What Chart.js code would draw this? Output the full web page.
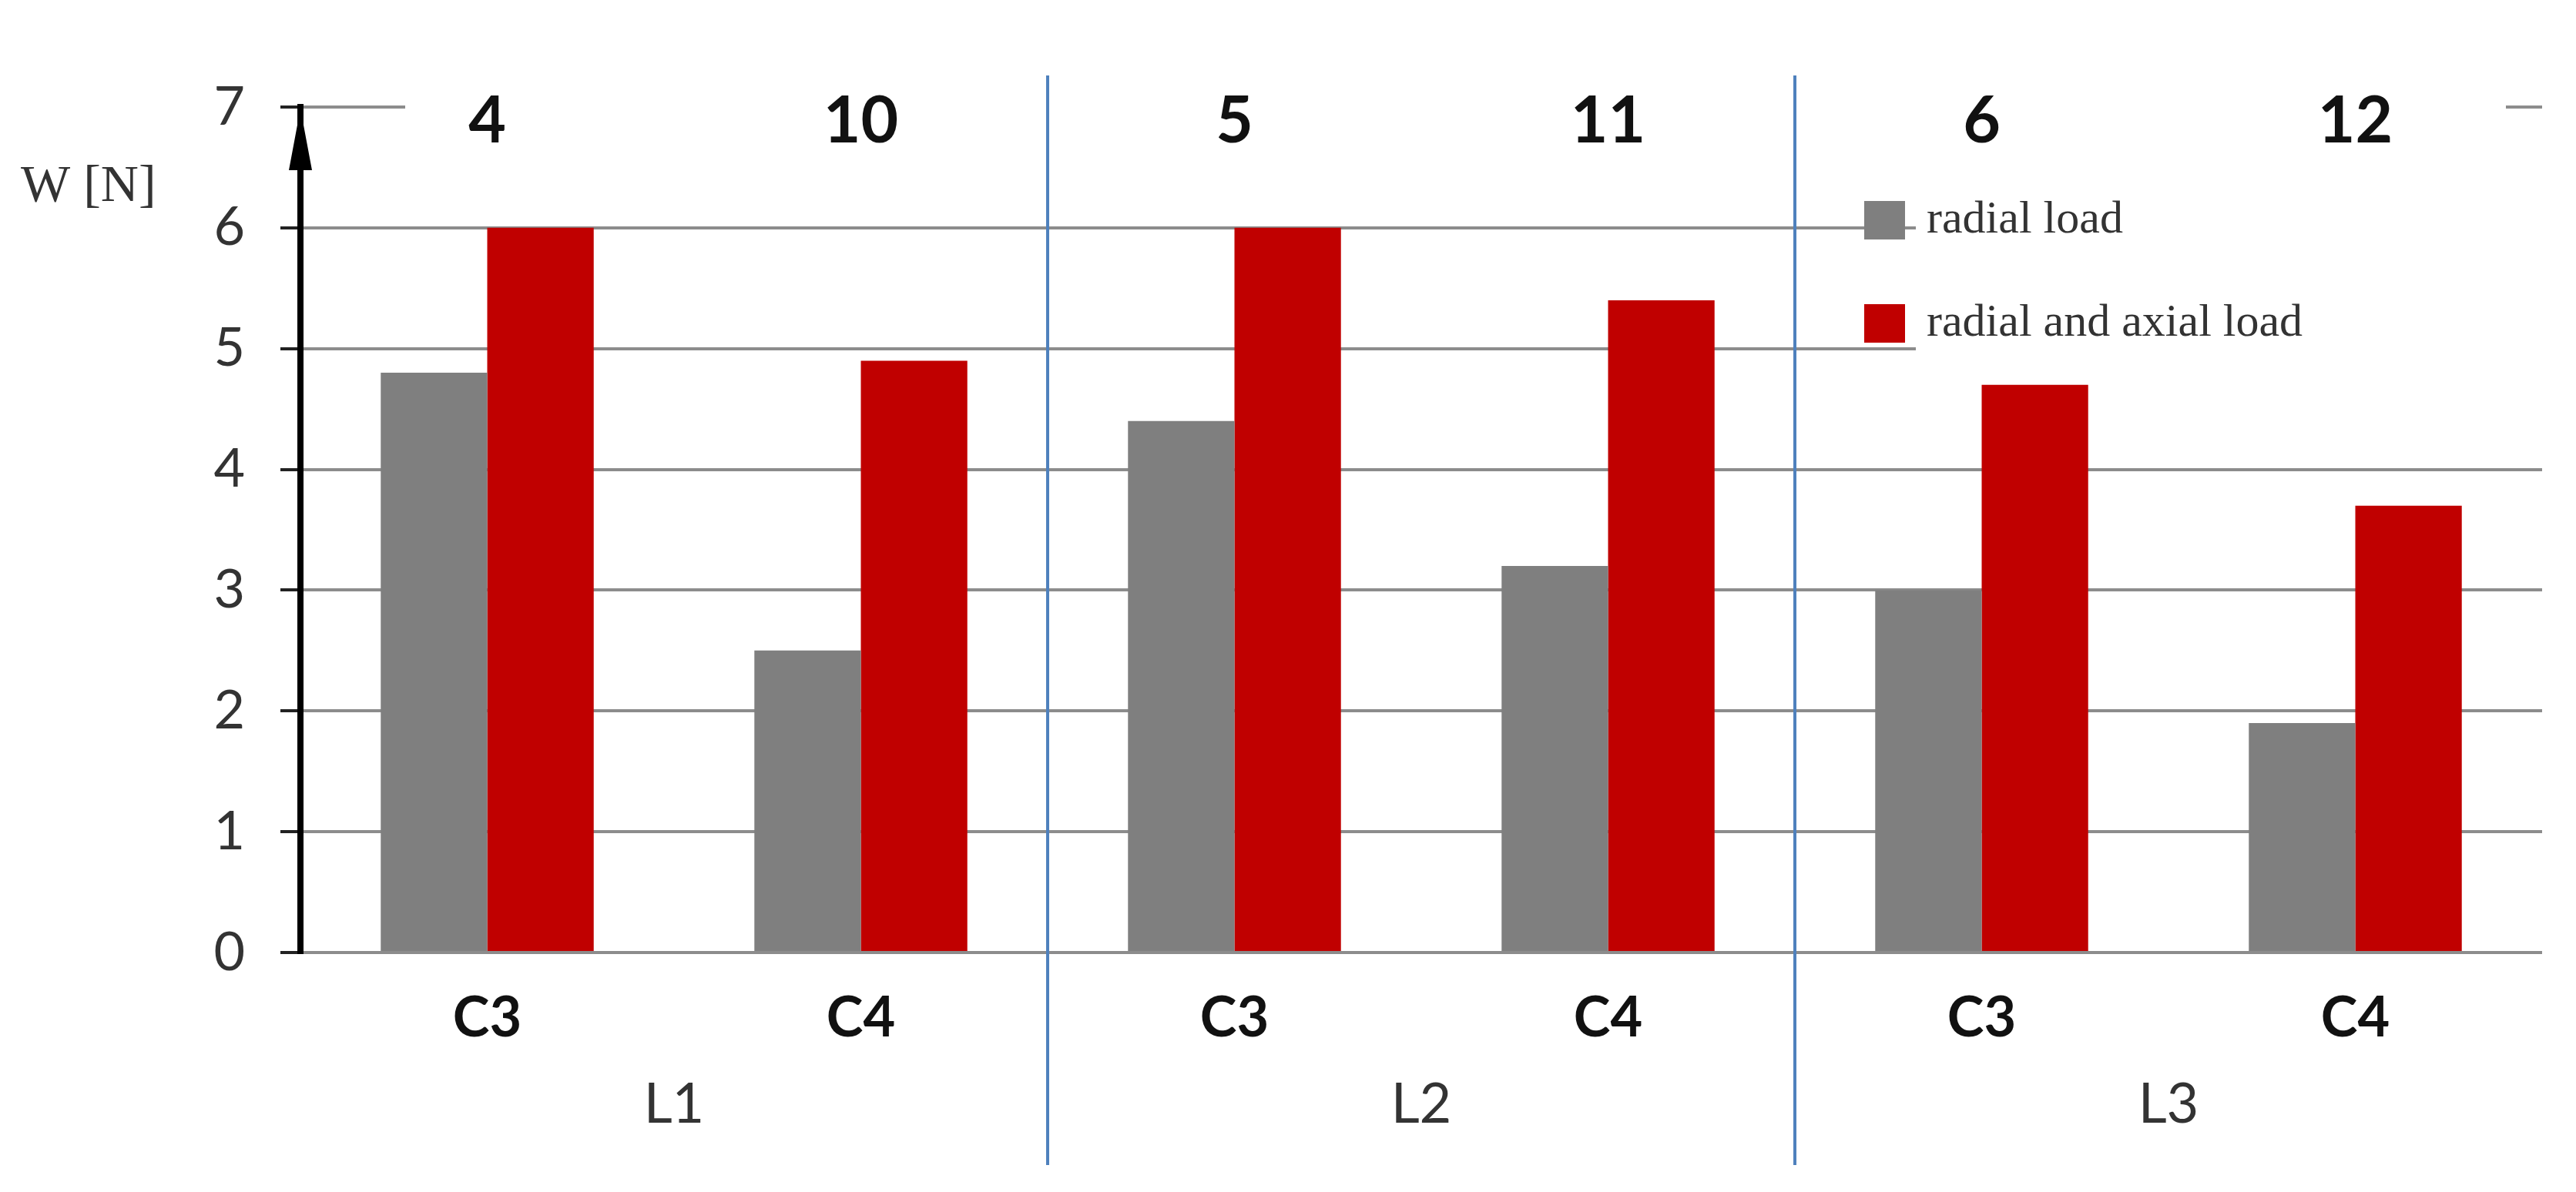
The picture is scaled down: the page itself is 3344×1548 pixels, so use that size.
<!DOCTYPE html>
<html>
<head>
<meta charset="utf-8">
<script src="https://cdn.jsdelivr.net/npm/chart.js@4/dist/chart.umd.min.js"></script>
<style>
  html, body { margin: 0; padding: 0; background: #fff; }
  #wrap { width: 3344px; height: 1548px; }
</style>
</head>
<body>
<div id="wrap"><canvas id="chart"></canvas></div>
<script>
// data
const groupLabels = ['L1', 'L2', 'L3'];
const cageLabels = ['C3', 'C4', 'C3', 'C4', 'C3', 'C4'];
const testNumbers = ['4', '10', '5', '11', '6', '12'];
const radialLoad = [4.8, 2.5, 4.4, 3.2, 3.0, 1.9];
const radialAxialLoad = [6.0, 4.9, 6.0, 5.4, 4.7, 3.7];
const yMin = 0, yMax = 7, yStep = 1;
const yTitle = 'W [N]';

const numFont = 'Lato, "Open Sans", sans-serif';
const serifFont = '"Liberation Serif", "DejaVu Serif", serif';

// white boxes behind the top numbers and the legend, the legend, separators, arrow
const overlayPlugin = {
    id: 'overlay',
    beforeDatasetsDraw(chart) {
        const ctx = chart.ctx, y = chart.scales.y;
        const top = y.getPixelForValue(yMax);
        ctx.save();
        ctx.fillStyle = '#fff';
        ctx.fillRect(526, top - 8, 3253 - 526, 16);
        ctx.fillRect(2487, 240, 3344 - 2487, 240);

        const rows = [286, 420];
        chart.data.datasets.forEach((ds, i) => {
            ctx.fillStyle = ds.backgroundColor;
            ctx.fillRect(2420, rows[i] - 25, 53, 50);
            ctx.fillStyle = '#333';
            ctx.font = '60px ' + serifFont;
            ctx.textAlign = 'left';
            ctx.textBaseline = 'middle';
            ctx.fillText(ds.label, 2501, rows[i]);
        });
        ctx.restore();
    },
    afterDraw(chart) {
        const ctx = chart.ctx, x = chart.scales.x, area = chart.chartArea;
        ctx.save();
        // test numbers above each pair of bars
        ctx.fillStyle = '#111';
        ctx.font = 'bold 84px ' + numFont;
        ctx.textAlign = 'center';
        ctx.textBaseline = 'middle';
        testNumbers.forEach((t, i) => {
            ctx.fillText(t, x.getPixelForValue(i), 158);
        });
        // group separators
        ctx.strokeStyle = '#4f81bd';
        ctx.lineWidth = 4;
        [1, 3].forEach(i => {
            const px = (x.getPixelForValue(i) + x.getPixelForValue(i + 1)) / 2;
            ctx.beginPath();
            ctx.moveTo(px, 98);
            ctx.lineTo(px, 1513);
            ctx.stroke();
        });
        // arrow head on y axis
        const ax = area.left;
        ctx.fillStyle = '#000';
        ctx.beginPath();
        ctx.moveTo(ax, area.top + 2);
        ctx.lineTo(ax - 15, area.top + 82);
        ctx.lineTo(ax + 15, area.top + 82);
        ctx.closePath();
        ctx.fill();
        // axis title
        ctx.fillStyle = '#333';
        ctx.font = '68px ' + serifFont;
        ctx.textAlign = 'left';
        ctx.textBaseline = 'middle';
        ctx.fillText(yTitle, 27, 243);
        ctx.restore();
    }
};

new Chart(document.getElementById('chart'), {
    type: 'bar',
    data: {
        labels: cageLabels,
        datasets: [
            {
                label: 'radial load',
                data: radialLoad,
                backgroundColor: '#7f7f7f',
                xAxisID: 'x'
            },
            {
                label: 'radial and axial load',
                data: radialAxialLoad,
                backgroundColor: '#c00000',
                xAxisID: 'x'
            }
        ]
    },
    options: {
        responsive: true,
        maintainAspectRatio: false,
        animation: false,
        devicePixelRatio: 1,
        layout: { padding: { left: 0, right: 44, top: 139, bottom: 0 } },
        datasets: {
            bar: { categoryPercentage: 0.57, barPercentage: 1.0 }
        },
        plugins: {
            legend: { display: false },
            title: { display: false },
            tooltip: { enabled: false }
        },
        scales: {
            x: {
                type: 'category',
                position: 'bottom',
                weight: 1,
                offset: true,
                grid: { display: false, drawTicks: false },
                border: { display: false },
                ticks: {
                    autoSkip: false,
                    maxRotation: 0,
                    padding: 43,
                    color: '#111',
                    font: { family: numFont, size: 72, weight: 'bold' }
                },
                afterFit: s => { s.height = 140; }
            },
            x3: {
                type: 'category',
                position: 'bottom',
                weight: 2,
                labels: groupLabels,
                offset: true,
                grid: { display: false, drawTicks: false },
                border: { display: false },
                ticks: {
                    autoSkip: false,
                    maxRotation: 0,
                    padding: 15,
                    color: '#333',
                    font: { family: numFont, size: 72 }
                },
                afterFit: s => { s.height = 171; }
            },
            y: {
                min: yMin,
                max: yMax,
                grid: {
                    color: '#8c8c8c',
                    lineWidth: 4,
                    tickColor: '#222',
                    tickLength: 26,
                    tickWidth: 4
                },
                border: { color: '#000', width: 8 },
                ticks: {
                    stepSize: yStep,
                    padding: 46,
                    color: '#333',
                    font: { family: numFont, size: 70 }
                },
                afterFit: s => { s.width = 390; }
            }
        }
    },
    plugins: [overlayPlugin]
});
</script>
</body>
</html>
